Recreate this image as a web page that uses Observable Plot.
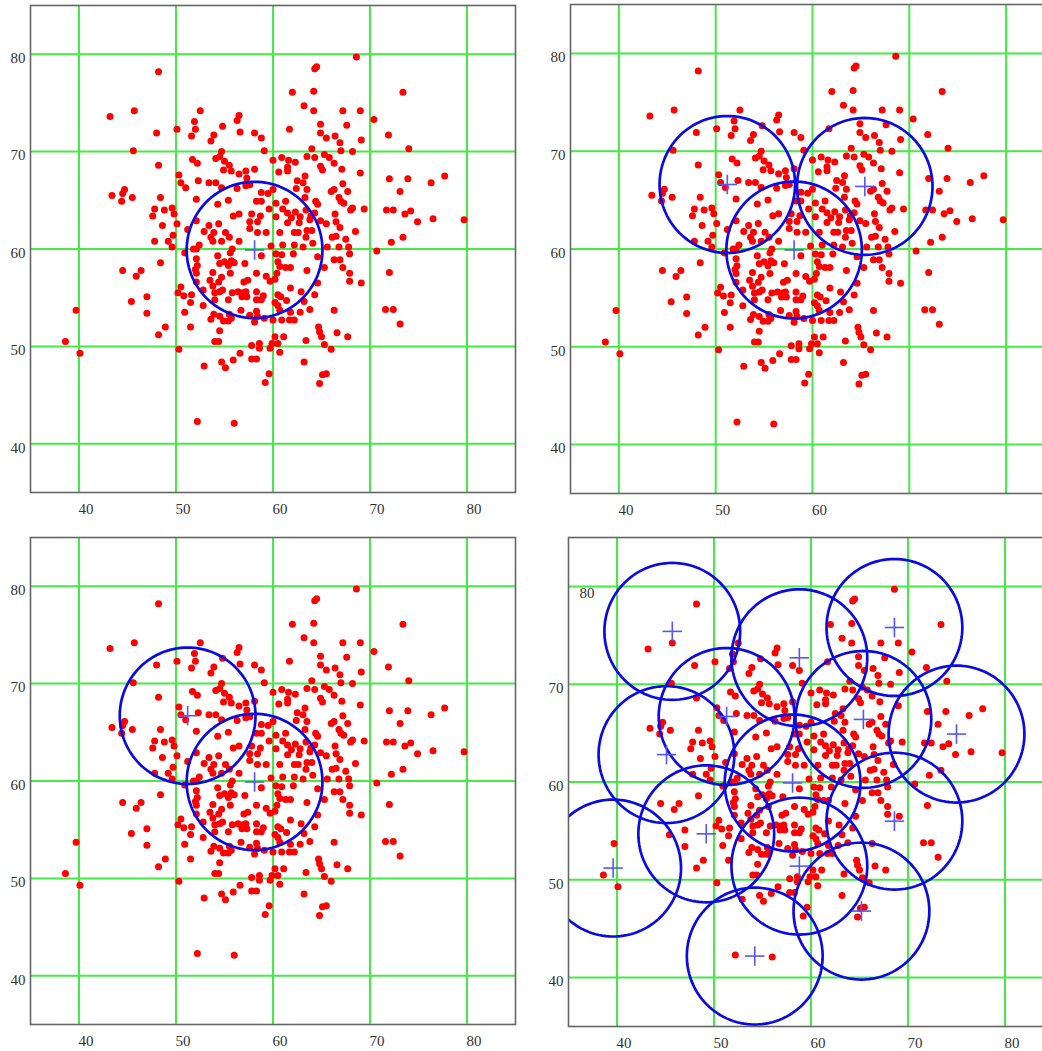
<!DOCTYPE html>
<html><head><meta charset="utf-8">
<script src="https://cdn.jsdelivr.net/npm/d3@7"></script>
<script src="https://cdn.jsdelivr.net/npm/@observablehq/plot@0.6"></script>
<style>
html,body{margin:0;padding:0;background:#fff;overflow:hidden;}
#wrap{position:relative;width:1042px;height:1051px;overflow:hidden;background:#fff;}
.p{position:absolute;width:520px;}
.p svg{max-width:none !important;}
</style></head><body><div id="wrap"></div>
<script>
// sample points (same in all four panels)
const xVals = [68.6,64.3,64.5,48.2,62.0,64.2,73.4,63.2,64.2,67.2,69.0,45.7,43.2,52.5,56.5,56.3,51.9,64.9,70.4,54.8,
50.1,52.0,56.6,48.0,58.1,58.8,61.7,64.9,65.5,66.4,67.6,71.9,51.6,53.9,53.6,69.1,66.9,67.0,74.0,45.6,
54.7,59.1,64.0,65.3,68.2,60.0,60.9,61.6,62.3,63.5,64.3,65.8,66.3,51.7,52.2,54.1,54.5,55.0,55.5,48.2,
57.2,58.1,54.9,55.7,61.5,61.5,60.6,64.9,65.1,67.1,69.0,56.5,50.3,50.5,63.3,57.3,72.0,73.9,77.7,76.3,
52.3,53.4,54.1,54.7,56.3,57.2,57.6,62.5,63.1,62.4,63.5,67.2,67.7,66.3,66.0,66.8,73.1,58.8,59.5,60.0,
51.0,44.7,43.4,44.5,45.5,44.4,48.4,52.1,55.4,58.3,58.8,60.3,61.3,63.3,64.4,64.6,67.0,67.3,54.3,59.6,
61.0,62.3,63.4,64.3,66.4,68.0,68.2,69.4,71.7,72.4,73.6,74.2,76.5,79.7,74.9,47.8,48.8,49.6,49.8,47.6,
48.6,50.1,52.1,56.5,55.9,57.8,58.7,60.3,61.5,61.9,62.8,63.8,63.9,61.5,62.7,64.9,65.5,66.5,66.9,68.5,
51.2,52.9,53.4,54.4,53.9,55.1,55.5,57.6,58.4,57.6,58.4,59.3,60.7,62.2,62.6,63.5,64.0,63.4,66.1,66.5,
67.5,73.4,72.2,47.8,49.2,49.7,49.6,53.6,53.8,54.7,56.5,52.4,52.1,51.8,50.9,55.8,55.6,59.8,61.0,62.2,
63.1,64.1,65.6,66.8,67.8,70.7,58.8,60.3,60.9,62.1,64.6,66.3,66.9,67.9,52.1,54.3,55.0,55.7,54.5,55.4,
57.1,56.0,48.4,52.2,60.5,60.7,61.3,61.8,65.3,67.2,72.0,44.5,46.4,45.9,52.0,52.1,53.8,54.7,55.6,58.3,
59.3,60.4,60.2,63.5,67.9,67.9,69.1,53.5,54.4,52.1,57.0,57.4,59.7,64.6,53.8,54.8,54.5,55.8,56.4,56.9,
57.2,56.8,57.3,61.8,62.9,64.3,50.5,50.2,50.8,51.6,51.5,52.8,54.0,58.3,58.3,58.8,59.0,55.4,60.5,60.8,
61.4,60.2,60.5,63.2,47.0,45.4,52.8,50.9,54.0,56.7,58.3,60.7,61.8,62.8,63.8,66.3,71.6,72.4,39.7,47.0,
53.9,54.5,55.5,57.6,58.4,53.6,54.9,55.4,55.7,60.0,60.9,61.7,62.2,59.1,58.1,48.9,51.5,64.7,73.1,54.5,
48.2,64.8,66.6,67.7,60.2,61.1,38.6,65.0,63.4,54.0,54.4,57.8,58.6,58.6,59.9,60.5,60.7,59.7,65.3,66.0,
50.3,40.1,56.6,55.9,57.8,58.3,54.7,63.2,52.9,55.1,59.6,65.1,65.5,59.2,64.8,52.2,56.0];
const yVals = [79.7,78.5,78.7,78.2,76.1,76.2,76.1,74.7,74.2,74.2,74.2,74.2,73.6,74.2,73.7,73.2,73.1,72.8,73.3,72.6,
72.3,72.3,72.0,71.9,71.9,71.4,72.3,71.9,71.4,71.6,72.7,71.7,71.6,71.7,71.1,71.2,70.9,70.1,70.3,70.1,
70.0,70.1,70.3,69.7,70.0,69.1,69.4,69.1,68.9,69.5,69.4,69.4,68.8,69.2,68.8,69.3,69.5,69.0,68.6,68.6,
68.0,68.2,68.1,68.0,68.4,68.0,67.9,68.5,68.1,68.2,67.8,67.7,67.6,66.8,67.5,67.3,67.2,67.2,67.5,66.8,
67.0,66.8,66.8,66.3,66.2,66.5,66.6,67.0,66.8,66.2,66.1,66.7,65.9,66.1,65.9,65.3,65.9,65.8,65.7,66.1,
66.3,66.1,65.5,65.7,65.3,64.9,65.3,65.1,65.0,64.9,64.9,64.7,64.9,65.3,64.9,64.6,64.9,64.7,64.6,64.1,
64.1,63.8,64.0,63.7,63.6,64.0,64.2,64.1,64.0,64.0,63.6,63.9,63.1,63.0,62.8,64.1,64.0,64.2,63.6,63.4,
62.4,62.6,62.9,63.6,63.4,63.6,63.4,63.3,63.7,63.2,63.3,63.0,63.4,62.7,62.7,62.9,62.6,62.8,62.2,61.8,
62.0,61.8,62.4,62.6,61.7,61.7,61.2,62.8,62.8,62.1,61.7,61.7,61.7,61.7,61.7,61.9,61.9,61.2,61.2,61.3,
61.0,61.2,60.7,60.8,60.8,61.4,60.2,61.2,60.8,60.8,60.8,60.4,60.0,60.0,59.6,60.0,59.6,60.3,60.4,60.4,
60.2,60.6,60.2,60.2,60.2,59.8,59.3,59.5,59.4,59.5,59.2,58.9,58.9,59.5,59.0,59.3,58.7,58.8,58.5,58.3,
58.5,58.6,58.6,58.3,58.7,58.2,58.1,58.1,58.1,58.1,57.6,57.8,57.8,57.2,57.9,57.5,57.6,57.1,57.5,57.5,
57.2,57.5,56.9,57.8,57.5,56.7,56.5,56.8,56.6,56.6,56.6,56.8,56.7,56.5,56.2,55.8,55.6,55.5,55.6,55.5,
55.6,55.1,55.1,56.0,55.6,55.3,56.1,55.5,55.2,55.3,54.5,55.8,55.5,55.6,54.8,54.8,55.2,54.8,55.3,55.1,
54.7,54.5,54.2,54.6,55.1,54.6,54.2,53.5,54.8,53.7,53.6,53.7,53.5,53.5,53.8,53.7,53.8,53.8,53.7,53.4,
53.3,53.1,53.3,53.2,53.1,52.8,52.6,52.6,52.9,52.7,52.7,52.7,52.7,52.9,52.5,52.0,52.0,52.0,52.3,51.6,
51.2,51.5,51.4,51.0,51.0,51.0,50.5,51.0,50.6,50.5,50.5,50.1,50.3,49.8,50.3,50.3,49.4,49.8,50.2,49.7,
49.7,49.3,49.3,48.6,48.7,48.7,48.4,48.4,48.0,47.8,47.2,47.1,47.2,46.3,46.2,42.3,42.1];

const gridTicks = [40, 50, 60, 70, 80];
const radius = 7;      // circle radius (data units)
const crossArm = 1;    // half-size of the centre crosses

// circle centres per panel
const p1CX = [58.1];             const p1CY = [59.9];
const p2CX = [58.1, 51.2, 65.4]; const p2CY = [59.9, 66.6, 66.4];
const p3CX = [58.1, 51.2];       const p3CY = [59.9, 66.7];
const p4CX = [45.7, 58.8, 68.6, 51.3, 65.4, 75.0, 45.1, 58.1, 49.2, 39.6, 58.8, 65.2, 54.2, 68.6];
const p4CY = [75.4, 72.7, 75.8, 66.7, 66.4, 64.9, 62.8, 59.9, 54.7, 51.2, 51.4, 46.8, 42.2, 56.0];

const wrap = document.getElementById("wrap");
const pts = xVals.map((x, i) => ({x, y: yVals[i]}));

function panel(cfg) {
  const centers = cfg.cx.map((x, i) => ({id: i, x, y: cfg.cy[i]}));
  const ring = [];
  centers.forEach(c => {
    for (let k = 0; k <= 120; k++) {
      const a = 2 * Math.PI * k / 120;
      ring.push({id: c.id, x: c.x + radius * Math.cos(a), y: c.y + radius * Math.sin(a)});
    }
  });
  const marks = [
    Plot.ruleX(gridTicks, {stroke: "#45ea45", strokeWidth: 2}),
    Plot.ruleY(gridTicks, {stroke: "#45ea45", strokeWidth: 2}),
    Plot.dot(pts, {x: "x", y: "y", r: 3.5, fill: "#ff0000", stroke: "none"}),
    Plot.line(ring, {x: "x", y: "y", z: "id", stroke: "#0a0ae6", strokeWidth: 2.7, clip: true}),
    Plot.link(centers, {x1: d => d.x - crossArm, x2: d => d.x + crossArm, y1: "y", y2: "y", stroke: "#5555ff", strokeWidth: 1.6}),
    Plot.link(centers, {x1: "x", x2: "x", y1: d => d.y - crossArm, y2: d => d.y + crossArm, stroke: "#5555ff", strokeWidth: 1.6}),
    Plot.frame({stroke: "#666", strokeWidth: 1.6}),
    Plot.axisX(cfg.xTicks, {tickSize: 0, tickPadding: 11, dx: 7, label: null, fill: "#333"}),
    Plot.axisY(cfg.yTicks, {tickSize: 0, tickPadding: 5, dy: 4, label: null, fill: "#333"})
  ];
  if (cfg.inner) marks.push(Plot.text(cfg.inner, {x: 35, y: d => d, text: d => String(d), dx: 11, dy: 7, textAnchor: "start", fill: "#333"}));
  const svg = Plot.plot({
    width: 520, height: cfg.height,
    marginLeft: 30, marginTop: cfg.mt, marginRight: cfg.mr, marginBottom: cfg.mb,
    x: {domain: [35, 85], axis: null},
    y: {domain: [35, 85], axis: null},
    style: {fontFamily: "'Liberation Serif', 'DejaVu Serif', serif", fontSize: "15px", background: "transparent", color: "#333", maxWidth: "none"},
    marks
  });
  const d = document.createElement("div");
  d.className = "p";
  d.style.left = cfg.left + "px";
  d.style.top = cfg.top + "px";
  d.appendChild(svg);
  wrap.appendChild(d);
}

panel({left: 0,   top: 0,   height: 525, mt: 5, mr: 5, mb: 33, cx: p1CX, cy: p1CY, xTicks: gridTicks, yTicks: gridTicks});
panel({left: 540, top: 0,   height: 525, mt: 4, mr: 6, mb: 32, cx: p2CX, cy: p2CY, xTicks: [40, 50, 60], yTicks: gridTicks});
panel({left: 0,   top: 532, height: 525, mt: 5, mr: 5, mb: 33, cx: p3CX, cy: p3CY, xTicks: gridTicks, yTicks: gridTicks});
panel({left: 538, top: 532, height: 526, mt: 5, mr: 5, mb: 32, cx: p4CX, cy: p4CY, xTicks: gridTicks, yTicks: [40, 50, 60, 70], inner: [80]});
</script></body></html>
